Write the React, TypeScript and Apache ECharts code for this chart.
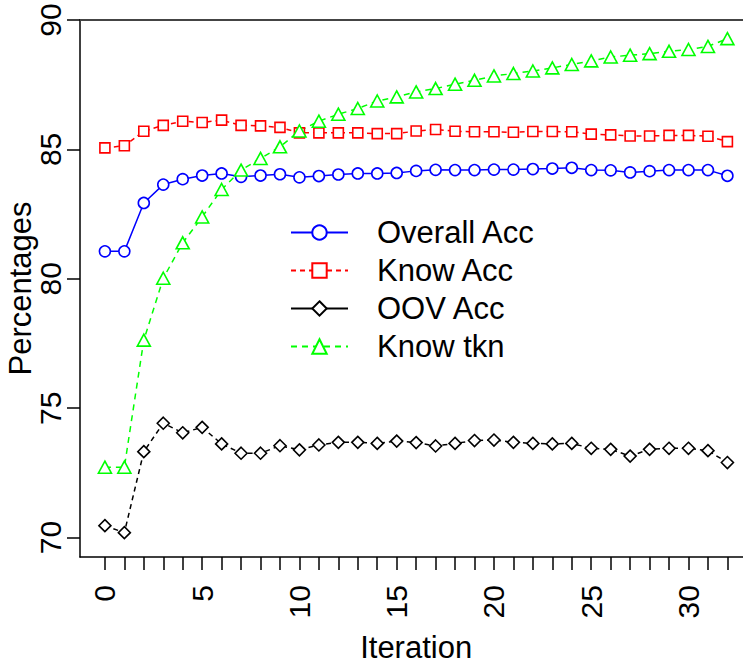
import React, { useEffect, useRef } from "react";
import * as echarts from "echarts";

const iterations = [0, 1, 2, 3, 4, 5, 6, 7, 8, 9, 10, 11, 12, 13, 14, 15, 16, 17, 18, 19, 20, 21, 22, 23, 24, 25, 26, 27, 28, 29, 30, 31, 32];

const overallAcc = [81.06, 81.06, 82.93, 83.64, 83.85, 83.99, 84.07, 83.94, 83.99, 84.04, 83.92, 83.97, 84.03, 84.07, 84.07, 84.09, 84.17, 84.21, 84.2, 84.2, 84.22, 84.22, 84.24, 84.26, 84.29, 84.2, 84.19, 84.11, 84.16, 84.2, 84.2, 84.2, 83.98];
const knowAcc = [85.06, 85.14, 85.7, 85.93, 86.09, 86.04, 86.13, 85.93, 85.91, 85.85, 85.64, 85.64, 85.64, 85.64, 85.61, 85.61, 85.71, 85.77, 85.7, 85.68, 85.68, 85.66, 85.69, 85.69, 85.68, 85.59, 85.56, 85.52, 85.52, 85.54, 85.54, 85.51, 85.3];
const oovAcc = [70.46, 70.19, 73.32, 74.42, 74.05, 74.26, 73.62, 73.26, 73.26, 73.55, 73.39, 73.58, 73.68, 73.68, 73.64, 73.73, 73.67, 73.54, 73.64, 73.75, 73.77, 73.68, 73.64, 73.62, 73.64, 73.45, 73.41, 73.15, 73.41, 73.45, 73.45, 73.36, 72.9];
const knowTkn = [72.72, 72.72, 77.63, 80.02, 81.39, 82.39, 83.45, 84.2, 84.65, 85.1, 85.71, 86.09, 86.36, 86.58, 86.87, 87.03, 87.22, 87.35, 87.52, 87.67, 87.84, 87.93, 88.03, 88.15, 88.28, 88.42, 88.57, 88.64, 88.7, 88.79, 88.86, 88.98, 89.28];

const xTickValues = [0, 1, 2, 3, 4, 5, 6, 7, 8, 9, 10, 11, 12, 13, 14, 15, 16, 17, 18, 19, 20, 21, 22, 23, 24, 25, 26, 27, 28, 29, 30, 31, 32];
const xLabelValues = [0, 5, 10, 15, 20, 25, 30];
const yTickValues = [70, 75, 80, 85, 90];

const seriesNames = ["Overall Acc", "Know Acc", "OOV Acc", "Know tkn"];

const FONT = "'Liberation Sans', Arial, Helvetica, sans-serif";

function pairs(values: number[]) {
  return iterations.map((it, i) => [it, values[i]]);
}

export default function App() {
  const ref = useRef<HTMLDivElement>(null);

  useEffect(() => {
    if (!ref.current) return;
    const chart = echarts.init(ref.current, undefined, { renderer: "svg" });

    const mk = (
      name: string,
      values: number[],
      color: string,
      symbol: string,
      size: number | number[],
      dash: any
    ) => ({
      name,
      type: "line",
      data: pairs(values),
      symbol,
      symbolSize: size,
      showSymbol: true,
      lineStyle: { color, width: 1.5, type: dash },
      itemStyle: { color: "#ffffff", borderColor: color, borderWidth: 1.6 },
      emphasis: { disabled: true },
    });

    chart.setOption({
      animation: false,
      backgroundColor: "#ffffff",
      textStyle: { fontFamily: FONT },
      grid: { left: 80, top: 20, width: 672.3, height: 537, containLabel: false, outerBoundsMode: "none" },
      legend: {
        orient: "vertical",
        left: 290,
        top: 217,
        padding: 0,
        itemWidth: 57,
        itemHeight: 18,
        itemGap: 7,
        selectedMode: false,
        textStyle: { fontSize: 31, color: "#000", fontFamily: FONT, padding: [0, 0, 0, 24] },
        data: [
          { name: seriesNames[0] },
          { name: seriesNames[1] },
          { name: seriesNames[2], lineStyle: { type: "solid" } },
          { name: seriesNames[3] },
        ],
      },
      xAxis: [
        {
          type: "value",
          min: -1.28,
          max: 33.28,
          position: "bottom",
          name: "Iteration",
          nameLocation: "middle",
          nameGap: 75,
          nameMoveOverlap: false,
          nameTextStyle: { fontSize: 31, color: "#000", fontFamily: FONT },
          axisLine: { show: true, onZero: false, lineStyle: { color: "#000", width: 1.5 } },
          axisTick: { show: true, length: 13, customValues: xTickValues, lineStyle: { color: "#000", width: 1.5 } },
          axisLabel: {
            show: true,
            customValues: xLabelValues,
            rotate: 90,
            margin: 28,
            fontSize: 30,
            color: "#000",
            fontFamily: FONT,
          },
          splitLine: { show: false },
        },
        {
          type: "value",
          min: -1.28,
          max: 33.28,
          position: "top",
          axisLine: { show: true, onZero: false, lineStyle: { color: "#444", width: 2 } },
          axisTick: { show: false },
          axisLabel: { show: false },
          splitLine: { show: false },
        },
      ],
      yAxis: {
        type: "value",
        min: 69.25,
        max: 90,
        name: "Percentages",
        nameLocation: "middle",
        nameRotate: 90,
        nameGap: 44,
        nameMoveOverlap: false,
        nameTextStyle: { fontSize: 31, color: "#000", fontFamily: FONT },
        axisLine: { show: true, onZero: false, lineStyle: { color: "#000", width: 1.5 } },
        axisTick: { show: true, length: 13, customValues: yTickValues, lineStyle: { color: "#000", width: 1.5 } },
        axisLabel: {
          show: true,
          customValues: yTickValues,
          rotate: 90,
          margin: 15,
          fontSize: 30,
          color: "#000",
          fontFamily: FONT,
        },
        splitLine: { show: false },
      },
      series: [
        mk(seriesNames[0], overallAcc, "#0000ff", "circle", 11, "solid"),
        mk(seriesNames[1], knowAcc, "#ff0000", "rect", 10, [5, 4]),
        mk(seriesNames[2], oovAcc, "#000000", "diamond", [12, 12], [5, 4]),
        mk(seriesNames[3], knowTkn, "#00ff00", "triangle", [13, 12], [6, 5]),
      ],
    });

    return () => chart.dispose();
  }, []);

  return (
    <div
      ref={ref}
      style={{ position: "absolute", left: 0, top: 0, width: 743, height: 664, overflow: "hidden" }}
    />
  );
}
